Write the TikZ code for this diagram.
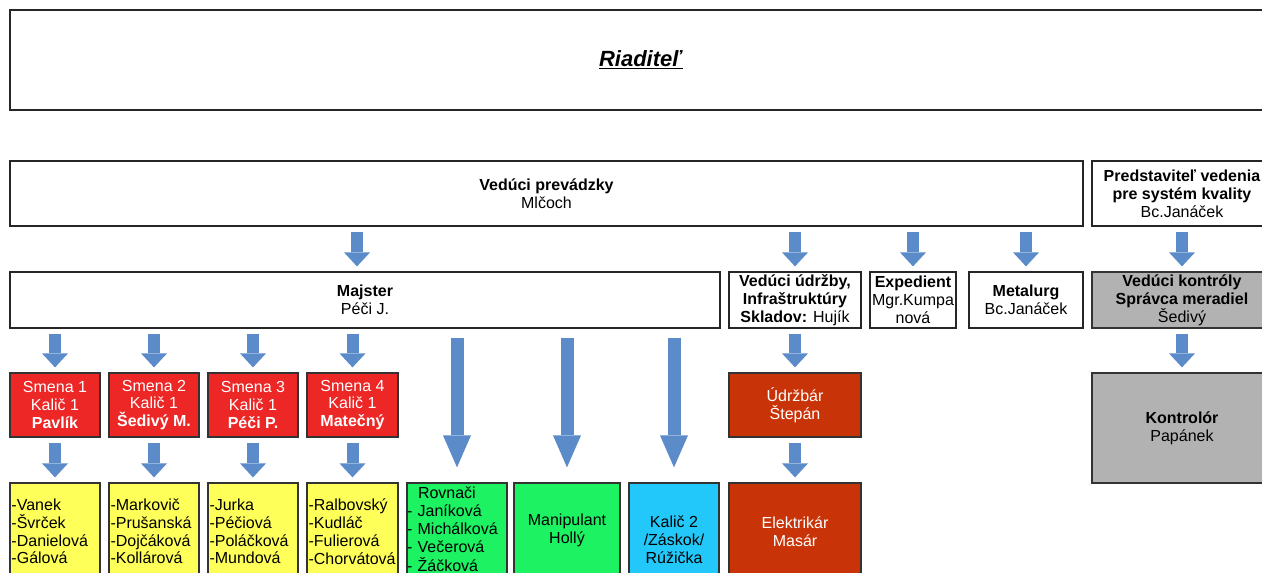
\documentclass[tikz,border=0pt]{standalone}
\usepackage{fontspec}
\setmainfont{Liberation Sans}
\usetikzlibrary{arrows.meta}

\definecolor{arrblue}{RGB}{91,139,200}
\definecolor{smred}{RGB}{237,38,38}
\definecolor{udred}{RGB}{200,52,8}
\definecolor{lstyel}{RGB}{255,255,90}
\definecolor{rovgrn}{RGB}{28,242,98}
\definecolor{kalblu}{RGB}{35,200,250}
\definecolor{kongry}{RGB}{178,178,178}
\newcommand\fsz{\fontsize{16}{17.8}\selectfont}

\tikzset{
  every node/.style={font=\fsz, inner sep=0pt, align=center},
  wbox/.style={draw=black!85, line width=1.2pt, fill=white},
  cbox/.style={draw=black!80, line width=1.2pt},
  lst/.style={cbox, fill=lstyel, align=left, inner xsep=1.5pt},
  blk/.style={draw=arrblue, line width=12pt,
    -{Triangle[width=26pt,length=14pt,line width=0pt]},
    shorten <=5pt, shorten >=5pt},
  blklong/.style={draw=arrblue, line width=13pt,
    -{Triangle[width=28pt,length=32pt,line width=0pt]},
    shorten <=9pt, shorten >=15pt},
}

\begin{document}
\begin{tikzpicture}[x=1pt,y=1pt]
	\useasboundingbox (0,0) rectangle (1262,-573);
	\clip (0,0) rectangle (1262,-573);
	% top
	\node[wbox, minimum width=1262pt, minimum height=100pt, font=\fontsize{22}{26}\selectfont] (rd) at (641,-60) {\underline{\textbf{\textit{Riaditeľ}}}};
	% second row
	\node[wbox, minimum width=1073pt, minimum height=65pt] (vp) at (546.5,-193.5) {\textbf{Vedúci prevádzky}\\Mlčoch};
	\node[wbox, minimum width=180pt, minimum height=65pt] (qm) at (1182,-193.5) {\textbf{Predstaviteľ vedenia}\\\textbf{pre systém kvality}\\Bc.Janáček};
	% third row
	\node[wbox, minimum width=710pt, minimum height=56pt] (maj) at (365,-300) {\textbf{Majster}\\Péči J.};
	\node[wbox, minimum width=132pt, minimum height=56pt] (udr) at (795,-300) {\textbf{Vedúci údržby,}\\\textbf{Infraštruktúry}\\\textbf{Skladov:} Hujík};
	\node[wbox, minimum width=86pt, minimum height=56pt] (exp) at (913,-300) {\textbf{Expedient}\\Mgr.Kumpa\\nová};
	\node[wbox, minimum width=114pt, minimum height=56pt] (met) at (1026,-300) {\textbf{Metalurg}\\Bc.Janáček};
	\node[cbox, fill=kongry, minimum width=180pt, minimum height=56pt] (vk) at (1182,-300) {\textbf{Vedúci kontróly}\\\textbf{Správca meradiel}\\Šedivý};
	% shifts
	\node[cbox, fill=smred, text=white, minimum width=90pt, minimum height=64pt] (s1) at (55,-405) {Smena 1\\Kalič 1\\\textbf{Pavlík}};
	\node[cbox, fill=smred, text=white, minimum width=90pt, minimum height=64pt] (s2) at (154,-405) {Smena 2\\Kalič 1\\\textbf{Šedivý M.}};
	\node[cbox, fill=smred, text=white, minimum width=90pt, minimum height=64pt] (s3) at (253,-405) {Smena 3\\Kalič 1\\\textbf{Péči P.}};
	\node[cbox, fill=smred, text=white, minimum width=91pt, minimum height=64pt] (s4) at (352.5,-405) {Smena 4\\Kalič 1\\\textbf{Matečný}};
	\node[cbox, fill=udred, text=white, minimum width=132pt, minimum height=64pt] (udb) at (795,-405) {Údržbár\\Štepán};
	\node[cbox, fill=kongry, minimum width=180pt, minimum height=110pt] (kon) at (1182,-428) {\textbf{Kontrolór}\\Papánek};
	% bottom row
	\node[lst, text width=87pt, minimum height=97pt] (y1) at (55,-531.5) {-Vanek\\-Švrček\\-Danielová\\-Gálová};
	\node[lst, text width=87pt, minimum height=97pt] (y2) at (154,-531.5) {-Markovič\\-Prušanská\\-Dojčáková\\-Kollárová};
	\node[lst, text width=87pt, minimum height=97pt] (y3) at (253,-531.5) {-Jurka\\-Péčiová\\-Poláčková\\-Mundová};
	\node[lst, text width=88pt, minimum height=97pt] (y4) at (352.5,-531.5) {-Ralbovský\\-Kudláč\\-Fulierová\\\mbox{-Chorvátová}};
	\node[cbox, fill=rovgrn, align=left, inner xsep=0pt, text width=100pt, minimum height=92pt, font=\fontsize{16}{18.2}\selectfont] (rov) at (457,-529) {\hspace*{11pt}Rovnači\\- Janíková\\- Michálková\\- Večerová\\- Žáčková};
	\node[cbox, fill=rovgrn, minimum width=106pt, minimum height=94pt] (man) at (567,-530) {Manipulant\\Hollý};
	\node[cbox, fill=kalblu, minimum width=90pt, minimum height=114pt] (kal) at (674,-540) {Kalič 2\\/Záskok/\\Rúžička};
	\node[cbox, fill=udred, text=white, minimum width=132pt, minimum height=98pt] (ele) at (795,-532) {Elektrikár\\Masár};
	% arrows
	\draw[blk] ([xshift=-8pt]maj.north |- vp.south) -- ([xshift=-8pt]maj.north);
	\draw[blk] (udr.north |- vp.south) -- (udr.north);
	\draw[blk] (exp.north |- vp.south) -- (exp.north);
	\draw[blk] (met.north |- vp.south) -- (met.north);
	\draw[blk] (qm.south) -- (vk.north);
	\foreach \s in {s1,s2,s3,s4} \draw[blk] (\s.north |- maj.south) -- (\s.north);
	\foreach \s/\y in {s1/y1,s2/y2,s3/y3,s4/y4} \draw[blk] (\s.south) -- (\y.north);
	\foreach \b in {rov,man,kal} \draw[blklong] (\b.north |- maj.south) -- (\b.north);
	\draw[blk] (udr.south) -- (udb.north);
	\draw[blk] (udb.south) -- (ele.north);
	\draw[blk] (vk.south) -- (kon.north);
\end{tikzpicture}
\end{document}
